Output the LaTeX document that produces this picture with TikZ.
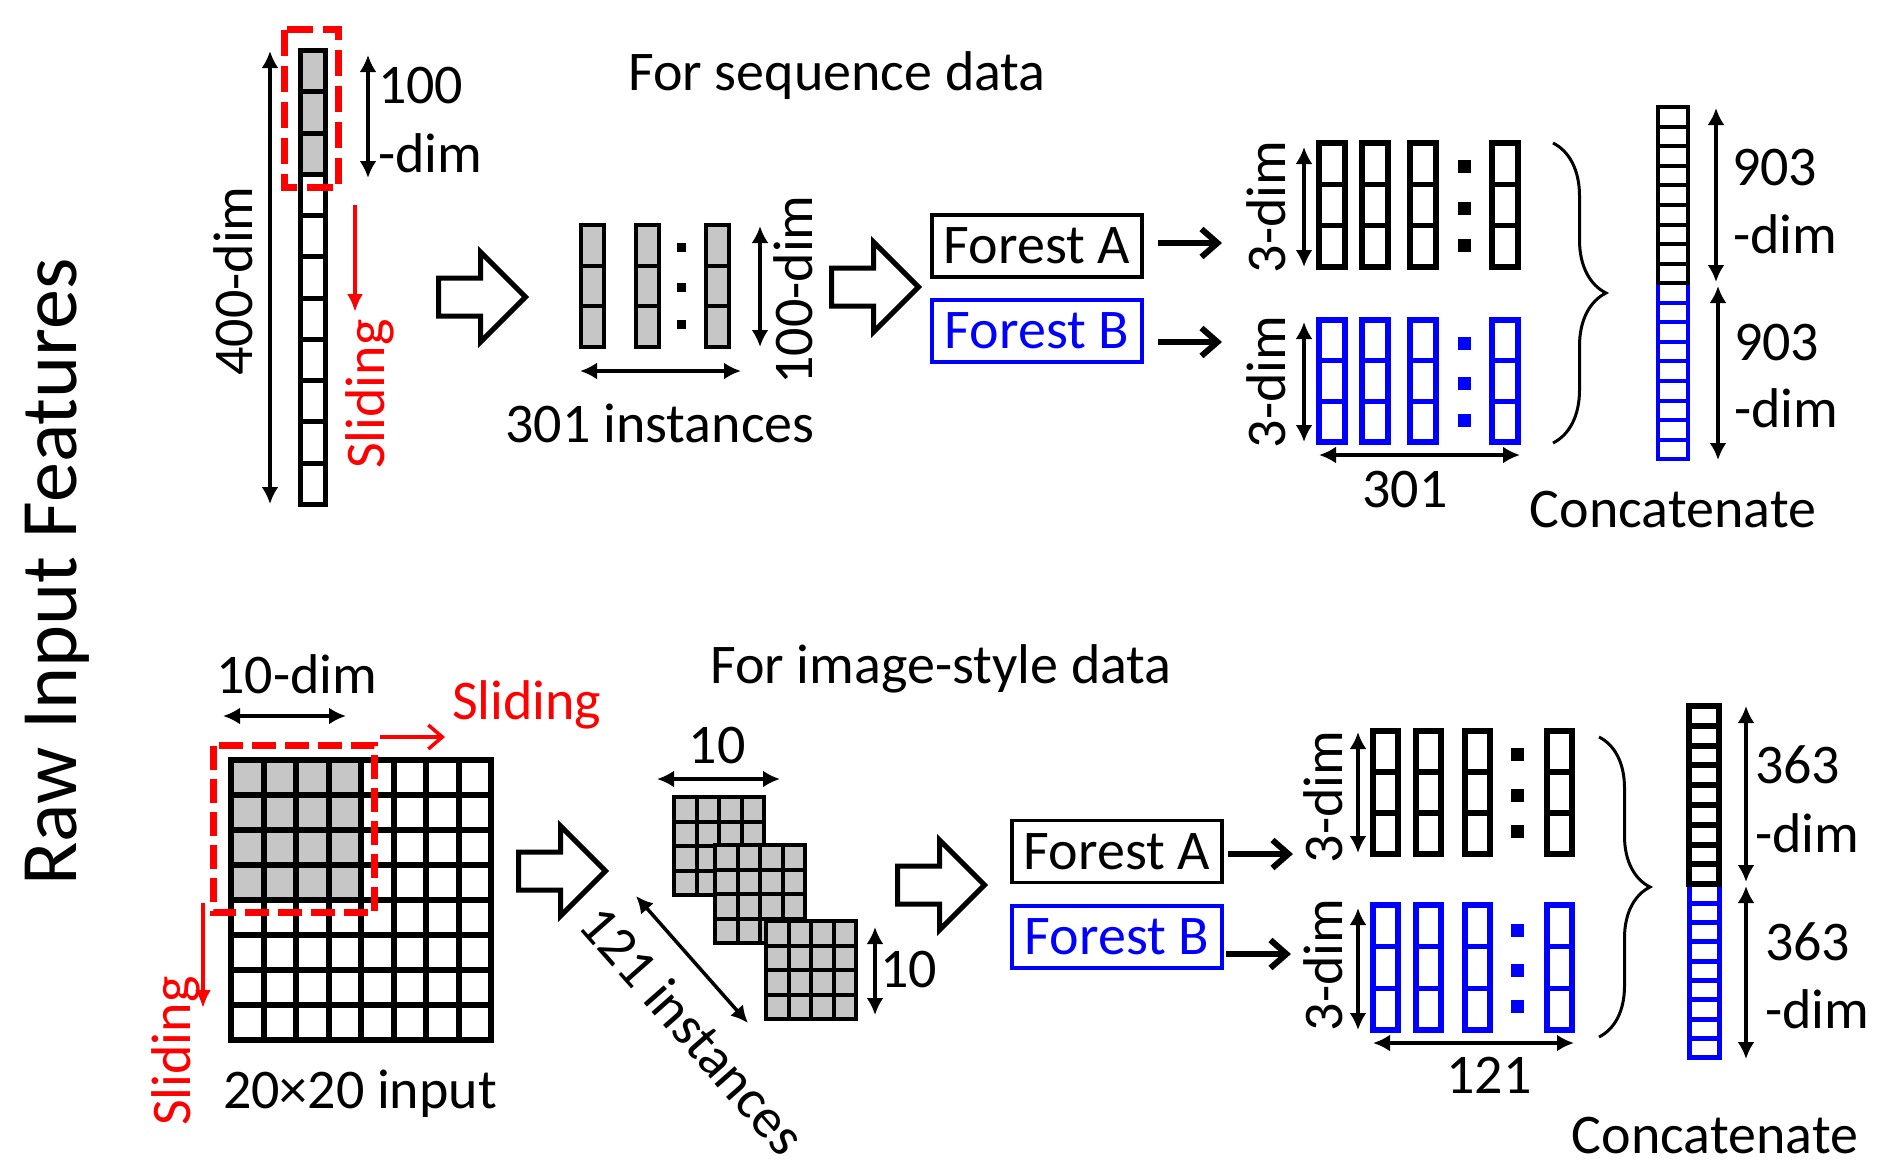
\documentclass[tikz,border=0pt]{standalone}
\usepackage{fontspec}
\setmainfont{Carlito}
\usetikzlibrary{arrows.meta, decorations.pathreplacing, positioning}
\definecolor{cellgray}{RGB}{198,198,198}
\definecolor{fblue}{RGB}{0,0,255}
\definecolor{fred}{RGB}{255,0,0}

\begin{document}
\begin{tikzpicture}[x=1pt, y=-1pt, line width=4pt]
\useasboundingbox (0,0) rectangle (1882,1168);
% Styles
\tikzstyle{txt}=[inner sep=0pt, outer sep=0pt, font=\fontsize{56}{60}\selectfont]
\tikzstyle{cell}=[draw=black, line width=5pt]
\tikzstyle{gcell}=[draw=black, fill=cellgray, line width=4pt]
\tikzstyle{ocell}=[draw, line width=5.5pt]
\tikzstyle{ccell}=[draw, line width=4pt]
\tikzstyle{dimarr}=[line width=3.5pt, {Latex[length=17pt,width=17pt]}-{Latex[length=17pt,width=17pt]}]
\tikzstyle{fwd}=[line width=6pt, -{Straight Barb[length=16pt,width=28pt]}]
\tikzstyle{slide}=[fred, line width=3.5pt]
\tikzstyle{forest}=[draw, line width=3.5pt, minimum width=210pt, minimum height=62pt, inner sep=0pt, font=\fontsize{56}{60}\selectfont]
\tikzstyle{blk}=[draw, line width=5pt, line join=miter]
\tikzstyle{win}=[fred, line width=7pt, dash pattern=on 26pt off 10pt]
\tikzstyle{brc}=[line width=3pt, decorate, decoration={brace, amplitude=53pt}]
% Title
\node[txt, font=\fontsize{80}{84}\selectfont, rotate=90, anchor=base] (title) at (76,572) {Raw Input Features};
% Sequence data: input
\fill[cellgray] (300.5,50.5) rectangle ++(25,123.8);
\foreach \j in {0,...,10} \draw[cell] (300.5,50.5+41.27*\j) rectangle ++(25,41.27);
\draw[win] (284.5,29.5) rectangle (338.5,187.5);
\draw[dimarr] (270,51) -- (270,504);
\node[txt, rotate=90, anchor=base] (sdim) at (252,281) {400-dim};
\draw[dimarr] (368,55) -- (368,178);
\node[txt, anchor=base west] (wdim) at (378,103) {100};
\node[txt, anchor=base west] (wdim2) at (378,172) {-dim};
\draw[slide, -{Latex[length=18pt,width=16pt]}] (355,205) -- (355,312);
\node[txt, fred, rotate=90, anchor=base] (sslide) at (384,394) {Sliding};
\node[txt, anchor=base] (stitle) at (837,90) {For sequence data};
% Block arrows
\foreach \x/\y in {436/297, 829/287, 516/871, 895/885}
  \draw[blk] (\x+2.5,\y-19) -- ++(42,0) -- ++(0,-26) -- ++(45,45) -- ++(-45,45) -- ++(0,-26) -- ++(-42,0) -- cycle;
% Sequence data: instances
\foreach \x in {581,636,706} \foreach \j in {0,1,2} \draw[gcell] (\x,225+40.7*\j) rectangle ++(23,40.7);
\foreach \y in {247,287,324} \fill (676.5,\y-4.5) rectangle ++(9,9);
\draw[dimarr] (580,371) -- (741,371);
\node[txt, anchor=base] (sinst) at (660,442) {301 instances};
\draw[dimarr] (760,226) -- (760,347);
\node[txt, rotate=90, anchor=base] (sidim) at (812,290) {100-dim};
% Sequence data: forests
\node[forest] (fa) at (1037,246) {Forest A};
\node[forest, fblue] (fb) at (1037,331) {Forest B};
\coordinate (oa) at (1222,243);
\coordinate (ob) at (1222,342);
\draw[fwd] (fa.east |- oa) ++(14,0) -- (oa);
\draw[fwd] (fb.east |- ob) ++(14,0) -- (ob);
\foreach \x in {1319,1362,1410,1492} \foreach \j in {0,1,2} {
  \draw[ocell] (\x,143+41.3*\j) rectangle ++(26,41.3);
  \draw[ocell, fblue] (\x,320+40.7*\j) rectangle ++(26,40.7);
}
\foreach \y in {166,208,245} \fill (1457.5,\y-6.5) rectangle ++(13,13);
\foreach \y in {343,383,420} \fill[fblue] (1457.5,\y-6.5) rectangle ++(13,13);
\node[txt, rotate=90, anchor=base] (sa3) at (1285,207) {3-dim};
\node[txt, rotate=90, anchor=base] (sb3) at (1285,382) {3-dim};
\draw[dimarr] (1304,147) -- (1304,267);
\draw[dimarr] (1304,322) -- (1304,442);
\draw[dimarr] (1319,455) -- (1520,455);
\node[txt, anchor=base] (sn) at (1405,507) {301};
% Sequence data: concatenate
\draw[brc] (1553,143) -- (1553,443);
\foreach \j in {0,...,8} \draw[ccell, fblue] (1658,283+19.6*\j) rectangle ++(30,19.6);
\foreach \j in {0,...,8} \draw[ccell] (1658,107+19.6*\j) rectangle ++(30,19.6);
\draw[dimarr] (1716,108) -- (1716,282);
\draw[dimarr] (1718,286) -- (1718,460);
\node[txt, anchor=base west] (sc1) at (1732,185) {903};
\node[txt, anchor=base west] (sc1d) at (1733,253) {-dim};
\node[txt, anchor=base west] (sc2) at (1734,360) {903};
\node[txt, anchor=base west] (sc2d) at (1734,427) {-dim};
\node[txt, anchor=base] (scat) at (1673,527) {Concatenate};
% Image data: input
\node[txt, anchor=base] (ititle) at (941,683) {For image-style data};
\fill[cellgray] (231,760) rectangle (361,900);
\draw[line width=6pt] (231,760) rectangle (491,1040);
\foreach \k in {1,...,7} {
  \draw[line width=6pt] (231+32.5*\k,760) -- ++(0,280);
  \draw[line width=6pt] (231,760+35*\k) -- ++(260,0);
}
\draw[win, dash pattern=on 24pt off 9pt] (213.5,745.5) rectangle (374.5,912.5);
\draw[dimarr] (223,716) -- (346,716);
\node[txt, anchor=base] (iwdim) at (297,693) {10-dim};
\draw[slide, -{Straight Barb[length=14pt,width=24pt]}] (380,737) -- (445,737);
\node[txt, fred, anchor=base west] (islide) at (452,719) {Sliding};
\draw[slide, -{Latex[length=18pt,width=16pt]}] (203,903) -- (203,1008);
\node[txt, fred, rotate=90, anchor=base] (islide2) at (190,1051) {Sliding};
\node[txt, anchor=base] (iin) at (360,1108) {20×20 input};
% Image data: instances
\foreach \x/\y in {674/797, 715/845, 766/921} {
  \draw[gcell] (\x,\y) rectangle ++(90,98);
  \foreach \k in {1,2,3} {
    \draw[line width=4pt] (\x+22.5*\k,\y) -- ++(0,98);
    \draw[line width=4pt] (\x,\y+24.5*\k) -- ++(90,0);
  }
}
\draw[dimarr] (657,779) -- (780,779);
\node[txt, anchor=base] (iw) at (717,763) {10};
\draw[dimarr] (875,927) -- (875,1015);
\node[txt, anchor=base west] (ih) at (880,987) {10};
\draw[dimarr] (636,896) -- (748,1023);
\node[txt, rotate=-48.6] (iinst) at (693,1030) {121 instances};
% Image data: forests
\node[forest] (fa2) at (1117,851.5) {Forest A};
\node[forest, fblue] (fb2) at (1117,937) {Forest B};
\coordinate (oa2) at (1293,854);
\coordinate (ob2) at (1291,954);
\draw[fwd] (fa2.east |- oa2) ++(4,0) -- (oa2);
\draw[fwd] (fb2.east |- ob2) ++(2,0) -- (ob2);
\foreach \x in {1373,1416,1465,1547} \foreach \j in {0,1,2} {
  \draw[ocell] (\x,731+41*\j) rectangle ++(25,41);
  \draw[ocell, fblue] (\x,905+41.7*\j) rectangle ++(25,41.7);
}
\foreach \y in {754,795,831} \fill (1511,\y-6.5) rectangle ++(13,13);
\foreach \y in {930,970,1006} \fill[fblue] (1511,\y-6.5) rectangle ++(13,13);
\node[txt, rotate=90, anchor=base] (ia3) at (1342,797) {3-dim};
\node[txt, rotate=90, anchor=base] (ib3) at (1342,965) {3-dim};
\draw[dimarr] (1358,732) -- (1358,853);
\draw[dimarr] (1358,908) -- (1358,1030);
\draw[dimarr] (1373,1043) -- (1574,1043);
\node[txt, anchor=base] (in) at (1489,1093) {121};
% Image data: concatenate
\draw[brc, decoration={brace, amplitude=51pt}] (1599,737) -- (1599,1037);
\foreach \j in {0,...,8} \draw[ccell, fblue, line width=5pt] (1689,884+19.3*\j) rectangle ++(30,19.3);
\foreach \j in {0,...,8} \draw[ccell, line width=6pt] (1689,706+19.8*\j) rectangle ++(30,19.8);
\draw[dimarr] (1746,706) -- (1746,882);
\draw[dimarr] (1746,886) -- (1746,1059);
\node[txt, anchor=base west] (ic1) at (1755,783) {363};
\node[txt, anchor=base west] (ic1d) at (1755,852) {-dim};
\node[txt, anchor=base west] (ic2) at (1765,960) {363};
\node[txt, anchor=base west] (ic2d) at (1765,1028) {-dim};
\node[txt, anchor=base] (icat) at (1715,1153) {Concatenate};
\end{tikzpicture}
\end{document}
